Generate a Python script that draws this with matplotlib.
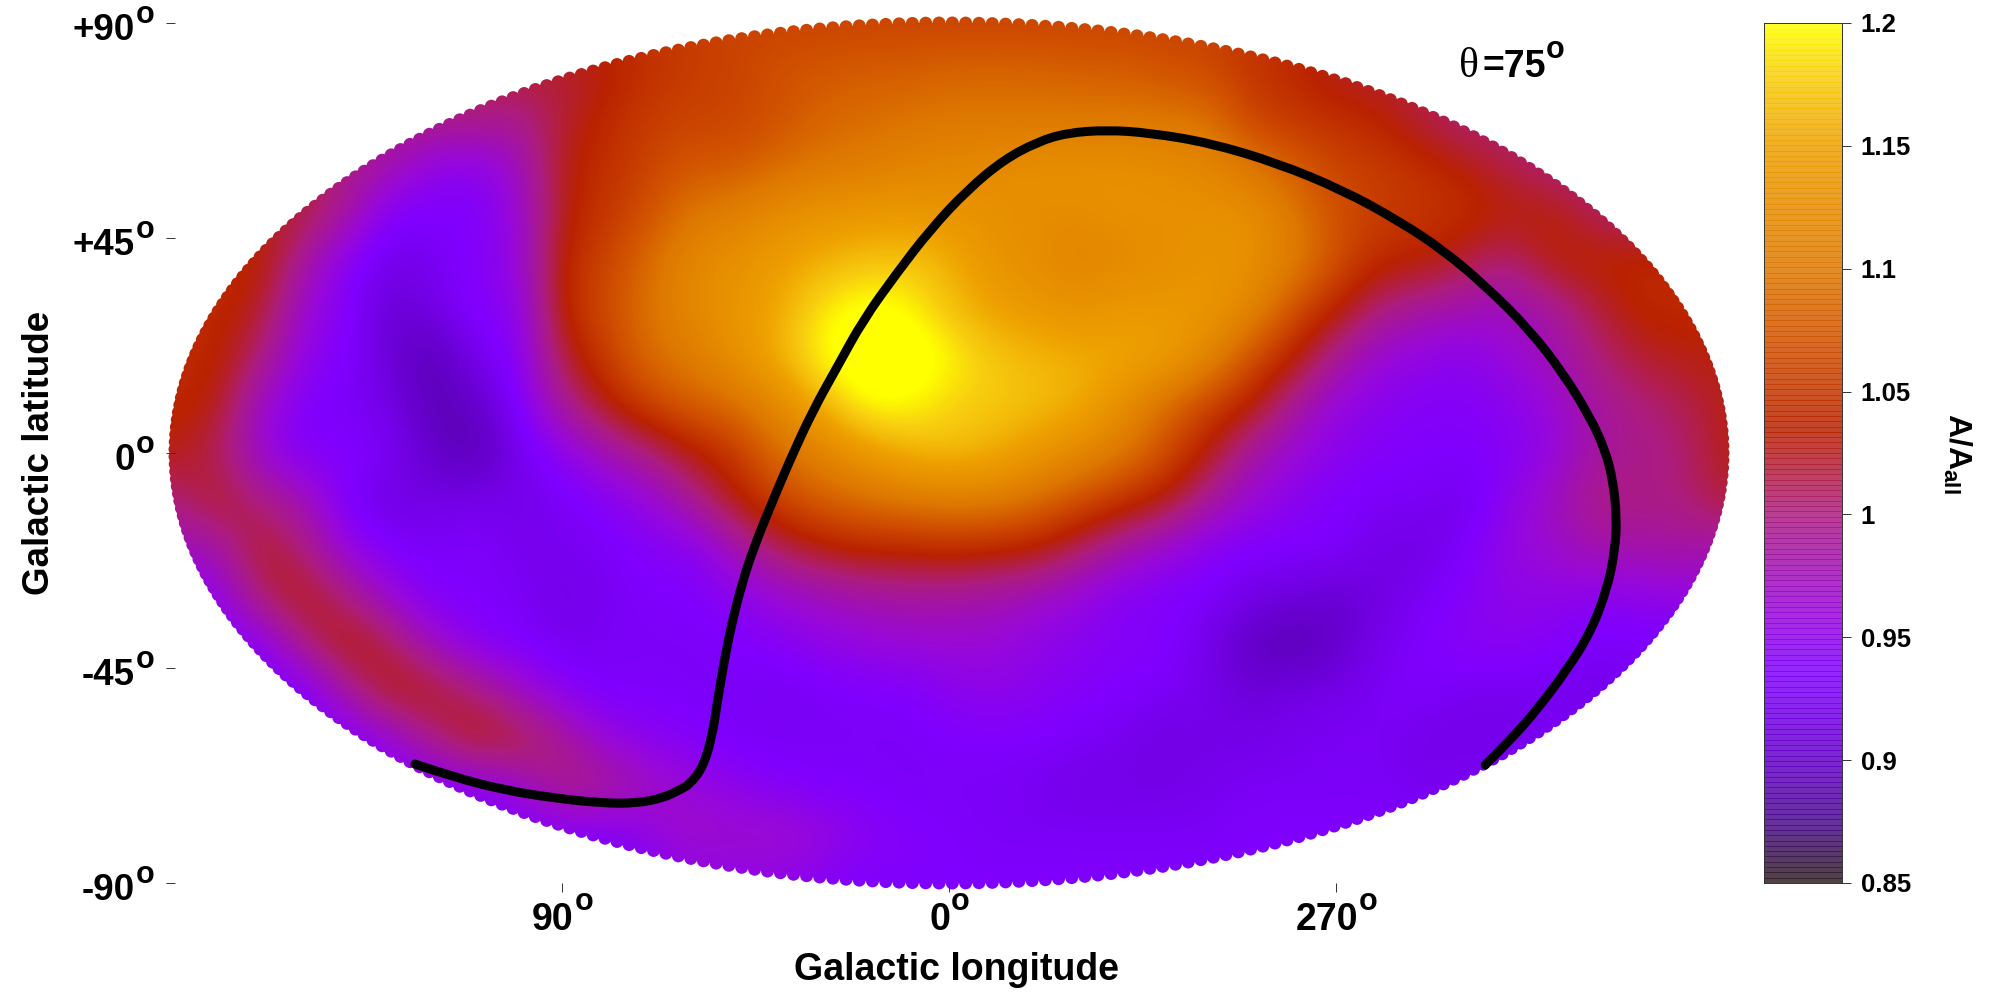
import matplotlib
matplotlib.use("Agg")
import matplotlib.pyplot as plt
import numpy as np
from matplotlib.colors import LinearSegmentedColormap, Normalize
from matplotlib.patches import PathPatch
from matplotlib.path import Path

plt.rcParams['font.family'] = ['Liberation Sans', 'DejaVu Sans']
plt.rcParams['mathtext.fontset'] = 'custom'
plt.rcParams['mathtext.bf'] = 'Liberation Sans:bold'

# map positions of the grid, degrees
lon_grid = list(range(-180, 181, 10))
lat_grid = list(range(90, -91, -10))

# A/Aall, one list per latitude
row_p90 = [1.04, 1.04, 1.04, 1.04, 1.04, 1.04, 1.04, 1.04, 1.04, 1.04, 1.04, 1.05, 1.055, 1.06, 1.06, 1.06, 1.06, 1.06, 1.06, 1.06, 1.06, 1.06, 1.06, 1.06, 1.06, 1.05, 1.04, 1.04, 1.04, 1.04, 1.04, 1.04, 1.04, 1.04, 1.04, 1.04, 1.04]
row_p80 = [1.02, 1.02, 1.02, 1.02, 1.02, 1.02, 1.02, 1.02, 1.02, 1.02, 1.03, 1.045, 1.055, 1.06, 1.07, 1.075, 1.08, 1.08, 1.085, 1.085, 1.085, 1.08, 1.08, 1.07, 1.065, 1.05, 1.04, 1.02, 1.02, 1.02, 1.02, 1.02, 1.02, 1.02, 1.02, 1.02, 1.02]
row_p70 = [1.0, 1.0, 1.0, 1.0, 1.0, 1.0, 1.0, 1.0, 0.995, 1.02, 1.04, 1.055, 1.06, 1.06, 1.07, 1.085, 1.09, 1.095, 1.10, 1.10, 1.10, 1.10, 1.10, 1.10, 1.095, 1.06, 1.05, 1.045, 1.035, 1.015, 1.0, 1.0, 1.0, 1.0, 1.0, 1.0, 1.0]
row_p60 = [1.02, 1.02, 1.02, 1.02, 1.0, 0.98, 0.95, 0.945, 0.97, 1.03, 1.045, 1.06, 1.075, 1.075, 1.09, 1.10, 1.105, 1.115, 1.12, 1.125, 1.13, 1.13, 1.13, 1.125, 1.12, 1.10, 1.08, 1.06, 1.055, 1.045, 1.032, 1.015, 1.0, 1.0, 1.0, 1.0, 1.0]
row_p50 = [1.03, 1.03, 1.03, 1.02, 0.985, 0.935, 0.935, 0.935, 0.96, 1.03, 1.05, 1.07, 1.10, 1.11, 1.125, 1.135, 1.14, 1.14, 1.135, 1.13, 1.125, 1.125, 1.13, 1.13, 1.13, 1.13, 1.10, 1.07, 1.055, 1.05, 1.045, 1.035, 1.035, 1.01, 1.0, 1.0, 1.0]
row_p40 = [1.04, 1.04, 1.04, 0.985, 0.94, 0.92, 0.925, 0.94, 0.955, 1.04, 1.06, 1.09, 1.12, 1.13, 1.145, 1.16, 1.17, 1.175, 1.16, 1.135, 1.125, 1.115, 1.12, 1.125, 1.135, 1.13, 1.11, 1.07, 1.04, 1.035, 1.02, 1.00, 1.035, 1.04, 1.04, 1.04, 1.04]
row_p30 = [1.04, 1.04, 1.025, 0.96, 0.94, 0.905, 0.92, 0.94, 0.945, 1.04, 1.065, 1.095, 1.12, 1.135, 1.155, 1.19, 1.21, 1.20, 1.17, 1.15, 1.14, 1.13, 1.14, 1.14, 1.14, 1.12, 1.07, 1.035, 1.00, 0.985, 0.975, 0.97, 0.985, 1.015, 1.04, 1.04, 1.04]
row_p20 = [1.04, 1.04, 1.0, 0.95, 0.935, 0.91, 0.885, 0.925, 0.94, 1.02, 1.055, 1.09, 1.105, 1.13, 1.16, 1.20, 1.22, 1.22, 1.20, 1.175, 1.165, 1.16, 1.155, 1.15, 1.12, 1.07, 1.035, 0.99, 0.96, 0.95, 0.945, 0.96, 0.975, 1.0, 1.02, 1.03, 1.03]
row_p10 = [1.04, 1.03, 0.965, 0.935, 0.93, 0.92, 0.89, 0.90, 0.935, 0.99, 1.03, 1.06, 1.08, 1.09, 1.12, 1.16, 1.20, 1.20, 1.18, 1.175, 1.17, 1.16, 1.13, 1.09, 1.06, 1.035, 0.99, 0.955, 0.945, 0.94, 0.94, 0.945, 0.96, 0.985, 1.0, 1.01, 1.03]
row_000 = [1.03, 1.01, 0.96, 0.935, 0.94, 0.93, 0.90, 0.885, 0.925, 0.945, 0.975, 1.0, 1.03, 1.05, 1.09, 1.11, 1.14, 1.16, 1.17, 1.16, 1.14, 1.12, 1.10, 1.07, 1.03, 0.985, 0.96, 0.945, 0.94, 0.935, 0.935, 0.94, 0.955, 0.985, 0.995, 1.0, 1.03]
row_m10 = [1.0, 1.03, 1.0, 0.98, 0.93, 0.915, 0.92, 0.925, 0.92, 0.93, 0.94, 0.955, 0.99, 1.03, 1.06, 1.08, 1.09, 1.10, 1.105, 1.105, 1.09, 1.07, 1.05, 1.03, 0.99, 0.96, 0.945, 0.935, 0.93, 0.93, 0.92, 0.95, 0.97, 1.0, 1.0, 1.0, 1.02]
row_m20 = [0.97, 0.98, 1.03, 1.0, 0.955, 0.935, 0.93, 0.935, 0.925, 0.925, 0.93, 0.94, 0.94, 0.975, 1.01, 1.03, 1.04, 1.04, 1.045, 1.04, 1.035, 1.01, 0.98, 0.96, 0.94, 0.935, 0.935, 0.935, 0.92, 0.915, 0.935, 0.955, 0.965, 0.98, 0.98, 0.985, 0.98]
row_m30 = [0.94, 0.95, 1.01, 1.035, 1.0, 0.96, 0.935, 0.935, 0.93, 0.92, 0.925, 0.935, 0.935, 0.945, 0.96, 0.97, 0.98, 0.985, 0.985, 0.98, 0.97, 0.955, 0.94, 0.935, 0.935, 0.92, 0.915, 0.905, 0.915, 0.93, 0.94, 0.95, 0.95, 0.945, 0.95, 0.955, 0.95]
row_m40 = [0.935, 0.935, 0.94, 1.0, 1.04, 1.015, 0.97, 0.94, 0.935, 0.925, 0.93, 0.93, 0.93, 0.935, 0.94, 0.95, 0.955, 0.96, 0.96, 0.96, 0.95, 0.945, 0.94, 0.94, 0.92, 0.895, 0.885, 0.90, 0.925, 0.935, 0.945, 0.945, 0.94, 0.93, 0.93, 0.93, 0.93]
row_m50 = [0.935, 0.935, 0.935, 0.93, 0.985, 1.035, 1.03, 1.005, 0.97, 0.945, 0.93, 0.935, 0.93, 0.93, 0.925, 0.93, 0.935, 0.935, 0.945, 0.95, 0.945, 0.94, 0.935, 0.93, 0.925, 0.91, 0.92, 0.92, 0.93, 0.935, 0.925, 0.925, 0.925, 0.92, 0.93, 0.93, 0.93]
row_m60 = [0.935, 0.935, 0.935, 0.935, 0.935, 0.955, 1.0, 1.035, 1.025, 0.995, 0.96, 0.945, 0.94, 0.93, 0.93, 0.93, 0.93, 0.93, 0.935, 0.935, 0.935, 0.93, 0.925, 0.915, 0.92, 0.92, 0.925, 0.93, 0.93, 0.92, 0.92, 0.92, 0.93, 0.93, 0.93, 0.93, 0.93]
row_m70 = [0.935, 0.935, 0.935, 0.935, 0.935, 0.935, 0.935, 0.94, 0.96, 1.0, 0.995, 0.975, 0.96, 0.95, 0.94, 0.935, 0.935, 0.93, 0.93, 0.93, 0.925, 0.92, 0.92, 0.92, 0.925, 0.93, 0.93, 0.93, 0.93, 0.925, 0.93, 0.93, 0.93, 0.93, 0.93, 0.93, 0.93]
row_m80 = [0.935, 0.935, 0.935, 0.935, 0.935, 0.935, 0.935, 0.935, 0.935, 0.935, 0.935, 0.95, 0.97, 0.965, 0.97, 0.96, 0.945, 0.94, 0.935, 0.93, 0.93, 0.93, 0.93, 0.93, 0.93, 0.935, 0.935, 0.935, 0.935, 0.935, 0.935, 0.935, 0.935, 0.935, 0.935, 0.935, 0.935]
row_m90 = [0.935, 0.935, 0.935, 0.935, 0.935, 0.935, 0.935, 0.935, 0.935, 0.935, 0.935, 0.94, 0.95, 0.95, 0.95, 0.94, 0.935, 0.935, 0.935, 0.935, 0.935, 0.935, 0.935, 0.935, 0.935, 0.935, 0.935, 0.935, 0.935, 0.935, 0.935, 0.935, 0.935, 0.935, 0.935, 0.935, 0.935]

# the black curve, in map degrees
curve_lon = [-124.2, -115.3, -103.7, -92.1, -80.5, -72.6, -66.5, -62.6, -60.2, -57.2, -55.1, -53.7, -52.1, -50.5, -48.1, -45.6, -41.6, -37.0, -31.6, -26.0, -20.0, -12.1, -4.4, 4.2, 12.6, 20.5, 27.4, 36.7, 46.7, 60.7, 76.3, 91.6, 104.2, 114.9, 125.1, 135.1, 142.8, 149.1, 152.6, 154.4, 155.3, 154.9, 153.0, 149.1, 143.7, 136.7, 130.5, 124.7]
curve_lat = [-65.1, -67.8, -70.5, -72.2, -73.3, -73.3, -72.2, -70.5, -69.3, -65.7, -59.4, -51.1, -42.7, -35.6, -27.2, -20.3, -11.3, -1.5, 9.0, 18.0, 27.8, 37.7, 46.7, 55.0, 61.3, 65.1, 67.0, 67.6, 67.0, 64.9, 60.7, 55.0, 48.8, 42.5, 34.7, 25.7, 16.7, 7.5, 0.6, -5.7, -13.4, -20.3, -28.7, -37.7, -45.4, -53.8, -60.1, -65.3]

x_ticks = [-90, 0, 90]
x_tick_labels = ['90', '0', '270']
y_ticks = [90, 45, 0, -45, -90]
y_tick_labels = ['+90', '+45', '0', '-45', '-90']
cbar_ticks = [0.85, 0.9, 0.95, 1, 1.05, 1.1, 1.15, 1.2]
cbar_labels = ['0.85', '0.9', '0.95', '1', '1.05', '1.1', '1.15', '1.2']

grid = np.array([row_p90, row_p80, row_p70, row_p60, row_p50, row_p40, row_p30, row_p20, row_p10, row_000,
                 row_m10, row_m20, row_m30, row_m40, row_m50, row_m60, row_m70, row_m80, row_m90])

# colormap, black through violet and red to yellow
vmin, vmax = 0.85, 1.2
stops = [(0.85, '#302020'), (0.875, '#4c0a90'), (0.90, '#6400c8'), (0.935, '#8000ff'),
         (0.96, '#9808d8'), (1.0, '#ac1c80'), (1.035, '#ba2200'), (1.07, '#d05000'),
         (1.10, '#de7800'), (1.15, '#eea000'), (1.18, '#f8d010'), (1.2, '#ffff00')]
cmap = LinearSegmentedColormap.from_list('aall', [((v - vmin) / (vmax - vmin), c) for v, c in stops], N=512)
norm = Normalize(vmin, vmax)

fig = plt.figure(figsize=(20, 10), dpi=100)
ax = fig.add_axes([175 / 2000, 1 - 883 / 1000, 1548 / 2000, 860 / 1000])

im = ax.imshow(grid, cmap=cmap, norm=norm, aspect='auto', interpolation='bicubic',
               interpolation_stage='data',
               extent=[lon_grid[0] - 5, lon_grid[-1] + 5, lat_grid[-1] - 5, lat_grid[0] + 5])
ax.set_xlim(-180, 180)
ax.set_ylim(-90, 90)

# scalloped edge: ellipse plus a ring of small dots
rx, ry = 6.5 / 774 * 180, 6.5 / 430 * 90
circle = Path.unit_circle()
parts = [Path(circle.vertices * [180, 90], circle.codes)]
for t in np.linspace(0, 2 * np.pi, 365, endpoint=False):
    parts.append(Path(circle.vertices * [rx, ry] + [180 * np.cos(t), 90 * np.sin(t)], circle.codes))
im.set_clip_path(Path.make_compound_path(*parts), transform=ax.transData)
im.set_clip_box(fig.bbox)

# curve as a smooth path, the read points are its control points
pts = np.column_stack([curve_lon, curve_lat])
verts = [pts[0]]
codes = [Path.MOVETO]
for i in range(1, len(pts) - 1):
    end = pts[i + 1] if i == len(pts) - 2 else (pts[i] + pts[i + 1]) / 2
    verts += [pts[i], end]
    codes += [Path.CURVE3, Path.CURVE3]
ax.add_patch(PathPatch(Path(verts, codes), fill=False, edgecolor='black', lw=6.5, capstyle='round'))

for s in ax.spines.values():
    s.set_visible(False)
ax.set_xticks(x_ticks)
ax.set_xticklabels([])
ax.set_yticks(y_ticks)
ax.set_yticklabels([])
ax.tick_params(axis='both', length=6.5, width=0.7, color='#333333')

# tick labels, digits and a raised bold o as two texts
for lat, lab in zip(y_ticks, y_tick_labels):
    ax.annotate(lab, (-180, lat), xytext=(-40, -17), textcoords='offset pixels', ha='right', va='baseline',
                fontsize=26.5, fontweight='bold', annotation_clip=False)
    ax.annotate('o', (-180, lat), xytext=(-39, 0), textcoords='offset pixels', ha='left', va='baseline',
                fontsize=22, fontweight='bold', annotation_clip=False)
for lon, lab in zip(x_ticks, x_tick_labels):
    w = len(lab) * 20.5
    ax.annotate(lab, (lon, -90), xytext=(-9, -47), textcoords='offset pixels', ha='center', va='baseline',
                fontsize=27, fontweight='bold', annotation_clip=False)
    ax.annotate('o', (lon, -90), xytext=(w / 2 - 8, -27), textcoords='offset pixels', ha='left', va='baseline',
                fontsize=22, fontweight='bold', annotation_clip=False)

fig.text(956 / 2000, 1 - 980 / 1000, 'Galactic longitude', fontsize=27, fontweight='bold', ha='center', va='baseline')
fig.text(40 / 2000, 1 - 453 / 1000, 'Galactic latitude', fontsize=26.5, fontweight='bold',
         rotation=90, ha='center', va='center')
fig.text(1459 / 2000, 1 - 77 / 1000, 'θ', fontsize=30, family='Liberation Serif')
fig.text(1546 / 2000, 1 - 77 / 1000, '=75', fontsize=27, fontweight='bold', ha='right')
fig.text(1546 / 2000, 1 - 58 / 1000, 'o', fontsize=22, fontweight='bold')

# colorbar, pale gradient with thin stronger lines
cax = fig.add_axes([1764 / 2000, 1 - 883 / 1000, 78 / 2000, 860 / 1000])
levels = np.linspace(vmin, vmax, 300)[::-1].reshape(-1, 1)
cax.imshow(levels, cmap=cmap, norm=norm, aspect='auto', alpha=0.85, extent=[0, 1, vmin, vmax])
lines = np.arange(vmin, vmax, 0.00216)
cax.hlines(lines, 0, 1, colors=cmap(norm(lines)), lw=0.6)
cax.set_xlim(0, 1)
cax.set_ylim(vmin, vmax)
cax.set_xticks([])
cax.yaxis.tick_right()
cax.set_yticks(cbar_ticks)
cax.set_yticklabels(cbar_labels, fontsize=18.5, fontweight='bold')
cax.tick_params(axis='y', length=6.5, width=0.7, color='#333333', pad=7)
for s in cax.spines.values():
    s.set_linewidth(0.7)
    s.set_color('#333333')
fig.text(1957 / 2000, 1 - 453 / 1000, 'A/A$_{\\mathbf{all}}$', fontsize=23, fontweight='bold',
         rotation=-90, ha='center', va='center')

fig.savefig('out.png', dpi=100)
